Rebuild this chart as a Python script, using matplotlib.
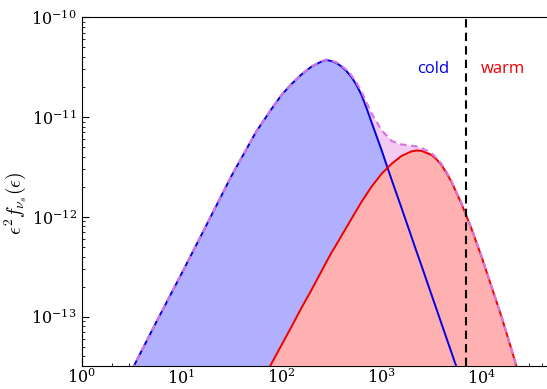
import numpy as np
import matplotlib
matplotlib.use('Agg')
import matplotlib.pyplot as plt

plt.rcParams['mathtext.fontset'] = 'cm'
plt.rcParams['font.family'] = 'serif'

# energy grid and the two spectra, eps^2 f(eps)
eps = [3.16, 5.62, 10.0, 17.8, 31.6, 56.2, 79.4, 100., 126., 158., 200., 251.,
       282., 316., 355., 398., 447., 501., 562., 631., 708., 794., 1000.,
       1259., 1585., 1995., 2239., 2512., 3162., 3548., 3981., 4467., 5012.,
       6310., 7943., 10000., 12589., 15849., 19953., 25119.]
cold = [2.88e-14, 8.9e-14, 2.69e-13, 8.3e-13, 2.57e-12, 7.2e-12, 1.2e-11,
        1.66e-11, 2.14e-11, 2.66e-11, 3.2e-11, 3.59e-11, 3.72e-11, 3.63e-11,
        3.47e-11, 3.2e-11, 2.88e-11, 2.51e-11, 2.09e-11, 1.66e-11, 1.23e-11,
        8.9e-12, 4.68e-12, 2.37e-12, 1.23e-12, 6.3e-13, 4.5e-13, 3.24e-13,
        1.66e-13, 1.19e-13, 8.5e-14, 6.1e-14, 4.37e-14, 2.24e-14, 1.15e-14,
        5.6e-15, 2.5e-15, 1.0e-15, 4e-16, 1.6e-16]
warm = [8.7e-17, 2.5e-16, 7.2e-16, 2.1e-15, 6.0e-15, 1.74e-14, 3.39e-14,
        5.19e-14, 7.94e-14, 1.22e-13, 1.86e-13, 2.85e-13, 3.55e-13, 4.37e-13,
        5.3e-13, 6.46e-13, 7.85e-13, 9.55e-13, 1.16e-12, 1.41e-12, 1.68e-12,
        2.0e-12, 2.69e-12, 3.39e-12, 4.07e-12, 4.52e-12, 4.62e-12, 4.57e-12,
        4.17e-12, 3.76e-12, 3.31e-12, 2.75e-12, 2.24e-12, 1.35e-12, 7.6e-13,
        4.0e-13, 2.0e-13, 1.0e-13, 4.7e-14, 2.14e-14]
eps_cut = 6950.

eps = np.array(eps)
cold = np.array(cold)
warm = np.array(warm)
total = cold + warm

ymin, ymax = 3.2e-14, 1e-10

fig = plt.figure(figsize=(5.47, 3.89), dpi=100)
ax = fig.add_axes([0.149, 0.059, 0.851, 0.897])

ax.fill_between(eps, ymin, total, color='#f2caf2', lw=0, zorder=1)
ax.fill_between(eps, ymin, cold, color='#b0b0ff', lw=0, zorder=2)
ax.fill_between(eps, ymin, warm, color='#ffb0b0', lw=0, zorder=3)
ax.plot(eps, cold, color='#0000e0', lw=1.4, zorder=4)
ax.plot(eps, warm, color='#ee0000', lw=1.4, zorder=4)
ax.plot(eps, total, color='#d878e0', lw=1.6, ls=(0, (3, 2)), zorder=5)
ax.axvline(eps_cut, color='k', lw=1.5, ls=(0, (4, 2.5)), zorder=6)

ax.set_xscale('log')
ax.set_yscale('log')
ax.set_xlim(1, 4.52e4)
ax.set_ylim(ymin, ymax)
ax.spines['right'].set_visible(False)
ax.tick_params(which='both', direction='in', top=False, right=False,
               labelsize=11.5)
ax.tick_params(axis='x', pad=1.5)
ax.tick_params(which='major', length=5)
ax.tick_params(which='minor', length=2.5)
ax.set_ylabel(r'$\epsilon^2 f_{\nu_s}(\epsilon)$', fontsize=14)
ax.yaxis.set_label_coords(-0.112, 0.467)

ax.text(0.755, 0.851, 'cold', color='#0000e0', fontsize=12,
        family='Open Sans', ha='center', va='center', transform=ax.transAxes)
ax.text(0.905, 0.851, 'warm', color='#ee0000', fontsize=12,
        family='Open Sans', ha='center', va='center', transform=ax.transAxes)

fig.savefig('out.png', dpi=100)
